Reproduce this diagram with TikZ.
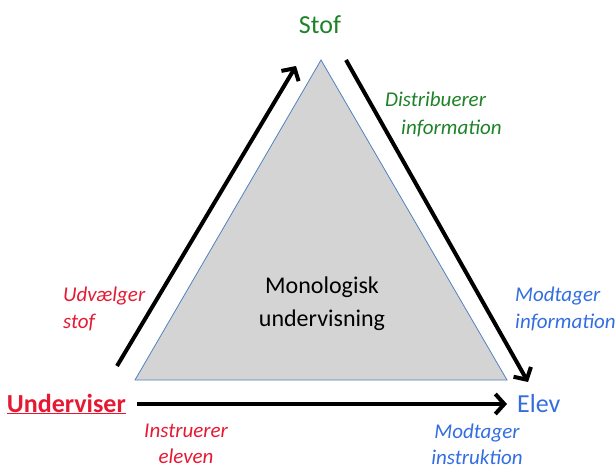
\documentclass[tikz,border=0pt]{standalone}
\usepackage{fontspec}
\setmainfont{Carlito}
\usetikzlibrary{arrows.meta}
\definecolor{stofgreen}{RGB}{30,130,40}
\definecolor{lred}{RGB}{230,25,50}
\definecolor{lblue}{RGB}{50,110,225}
\definecolor{trigray}{RGB}{212,212,212}
\definecolor{triedge}{RGB}{80,130,190}
\tikzset{
  big/.style={font=\fontsize{26}{30}\selectfont},
  lab/.style={font=\fontsize{21}{27}\selectfont\itshape, align=center, inner sep=0pt},
  flow/.style={line width=4pt, -{Straight Barb[length=9pt,width=20pt,line width=4pt]}},
}
\begin{document}
\begin{tikzpicture}[x=1pt,y=-1pt]
\useasboundingbox (0,0) rectangle (616,469);
\coordinate (apex) at (321,60);
\coordinate (bl) at (135,380);
\coordinate (br) at (507,380);
\filldraw[fill=trigray, draw=triedge, line width=0.8pt] (apex) -- (bl) -- (br) -- cycle;

\node[big, text=stofgreen, anchor=base] (stof) at (320,33) {Stof};
\node[big, text=lblue, anchor=west, inner sep=0pt] (elev) at (517,404) {Elev};
\node[big, text=lred, anchor=east, inner sep=0pt] (und) at (126,404) {\textbf{\underline{Underviser}}};

\node[font=\fontsize{24}{33}\selectfont, align=center, inner sep=0pt] (mono) at (322,304) {Monologisk\\undervisning};

\coordinate (a1s) at (117,366);
\coordinate (a1e) at (296,66);
\coordinate (a2s) at (346,60);
\coordinate (a2e) at (528,382);
\coordinate (a3s) at (137,404);
\coordinate (a3e) at (507,404);
\draw[flow] (a1s) -- (a1e);
\draw[flow] (a2s) -- (a2e);
\draw[flow] (a3s) -- (a3e);

\node[lab, text=stofgreen, align=left, anchor=west, font=\fontsize{21}{28}\selectfont\itshape] (dist) at (385,114) {Distribuerer\\\hspace*{16pt}information};
\node[lab, text=lred, align=left, anchor=west] (udv) at (63,309) {Udvælger\\stof};
\node[lab, text=lblue, align=left, anchor=west] (modi) at (515,309) {Modtager\\information};
\node[lab, text=lred, font=\fontsize{21}{26}\selectfont\itshape] (instr) at (186,444) {Instruerer\\eleven};
\node[lab, text=lblue, font=\fontsize{21}{26}\selectfont\itshape] (modins) at (477,444) {Modtager\\instruktion};
\end{tikzpicture}
\end{document}
